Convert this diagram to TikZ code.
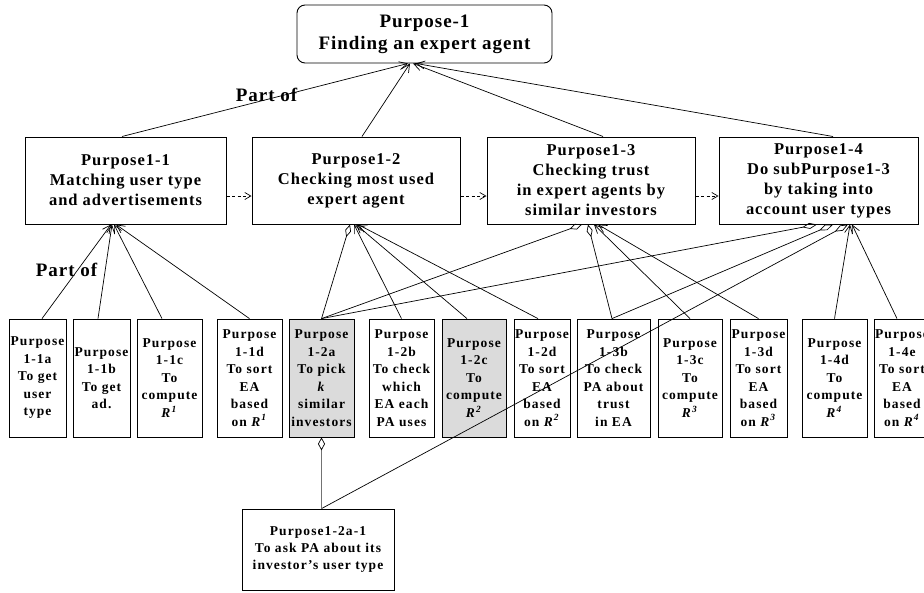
\documentclass[tikz,border=0pt]{standalone}
\usepackage{fontspec}
\setmainfont{Liberation Serif}
\newfontfamily\fontTop[LetterSpace=5]{Liberation Serif}
\newfontfamily\fontMid[LetterSpace=6]{Liberation Serif}
\newfontfamily\fontBot[LetterSpace=8]{Liberation Serif}
\usetikzlibrary{arrows.meta,calc}
\newcommand{\Rsup}[1]{\textit{R}\textsuperscript{\textit{#1}}}
\tikzset{
 topbox/.style={draw, line width=0.9pt, rounded corners=8pt, minimum width=255pt, minimum height=58pt, inner sep=0pt, align=center, font=\fontTop\bfseries\fontsize{19}{22}\selectfont},
 midbox/.style={draw, line width=1pt, minimum height=87pt, inner sep=0pt, align=center, font=\fontMid\bfseries\fontsize{16.5}{20}\selectfont},
 botbox/.style={draw, line width=0.8pt, minimum height=118pt, inner sep=0pt, align=center, font=\fontBot\bfseries\fontsize{13.5}{17.5}\selectfont},
 subbox/.style={draw, line width=0.8pt, minimum width=152pt, minimum height=81pt, inner sep=0pt, align=center, font=\fontBot\bfseries\fontsize{13.5}{17}\selectfont},
 shaded/.style={fill=black!14},
 lbl/.style={inner sep=0pt, font=\fontTop\bfseries\fontsize{19}{22}\selectfont},
 part/.style={line width=0.7pt, -{Straight Barb[length=8pt,width=8pt,line width=0.7pt]}},
 seq/.style={line width=0.7pt, dash pattern=on 3pt off 2.5pt, -{Straight Barb[length=6pt,width=7pt,line width=0.7pt]}},
 agg/.style={line width=0.7pt, -{Diamond[open,length=13pt,width=6pt,line width=0.7pt]}},
 hagg/.style={line width=0.7pt, -{Diamond[open,length=15pt,width=6pt,line width=0.7pt]}},
 subline/.style={line width=1.6pt, draw=black!55, -{Diamond[open,length=13pt,width=7pt,line width=0.7pt,color=black]}},
}
\begin{document}
\begin{tikzpicture}[x=1pt,y=-1pt]
\useasboundingbox (0,0) rectangle (924,592);
% top
\node[topbox] (top) at (424.5,34) {Purpose-1\\Finding an expert agent};
% middle row
\node[midbox, minimum width=201pt] (b1) at (125.5,180.5) {Purpose1-1\\Matching user type\\and advertisements};
\node[midbox, minimum width=208pt] (b2) at (356,180.5) {Purpose1-2\\Checking most used\\expert agent};
\node[midbox, minimum width=208pt] (b3) at (591,180.5) {Purpose1-3\\Checking trust\\in expert agents by\\similar investors};
\node[midbox, minimum width=199pt] (b4) at (818.5,180.5) {Purpose1-4\\Do subPurpose1-3\\by taking into\\account user types};
% labels
\node[lbl] (lp1) at (266.5,95) {Part of};
\node[lbl] (lp2) at (66.5,270) {Part of};
% bottom row
\node[botbox, minimum width=57pt] (a1a) at (37.5,378) {Purpose\\1-1a\\To get\\user\\type};
\node[botbox, minimum width=57pt] (a1b) at (101.5,378) {Purpose\\1-1b\\To get\\ad.};
\node[botbox, minimum width=65pt] (a1c) at (169.5,378) {Purpose\\1-1c\\To\\compute\\\Rsup{1}};
\node[botbox, minimum width=65pt] (a1d) at (249.5,378) {Purpose\\1-1d\\To sort\\EA\\based\\on \Rsup{1}};
\node[botbox, shaded, minimum width=65pt] (a2a) at (321.5,378) {Purpose\\1-2a\\To pick\\\textit{k}\\similar\\investors};
\node[botbox, minimum width=65pt] (a2b) at (401.5,378) {Purpose\\1-2b\\To check\\which\\EA each\\PA uses};
\node[botbox, shaded, minimum width=64pt] (a2c) at (474,378) {Purpose\\1-2c\\To\\compute\\\Rsup{2}};
\node[botbox, minimum width=56pt] (a2d) at (542,378) {Purpose\\1-2d\\To sort\\EA\\based\\on \Rsup{2}};
\node[botbox, minimum width=73pt] (a3b) at (613.5,378) {Purpose\\1-3b\\To check\\PA about\\trust\\in EA};
\node[botbox, minimum width=64pt] (a3c) at (690,378) {Purpose\\1-3c\\To\\compute\\\Rsup{3}};
\node[botbox, minimum width=57pt] (a3d) at (758.5,378) {Purpose\\1-3d\\To sort\\EA\\based\\on \Rsup{3}};
\node[botbox, minimum width=65pt] (a4d) at (834.5,378) {Purpose\\1-4d\\To\\compute\\\Rsup{4}};
\node[botbox, minimum width=56pt] (a4e) at (902,378) {Purpose\\1-4e\\To sort\\EA\\based\\on \Rsup{4}};
% sub purpose
\node[subbox] (sub) at (318,549.5) {Purpose1-2a-1\\To ask PA about its\\investor’s user type};
% top connectors
\draw[part] (b1.north -| 122,0) -- (top.south -| 408,0);
\draw[part] (b2.north -| 362,0) -- (top.south -| 410,0);
\draw[part] (b3.north -| 603,0) -- (top.south -| 413,0);
\draw[part] (b4.north -| 833,0) -- (top.south -| 416,0);
% sequence
\draw[seq] (b1.east |- 0,196) -- (b2.west |- 0,196);
\draw[seq] (b2.east |- 0,196) -- (b3.west |- 0,196);
\draw[seq] (b3.east |- 0,196) -- (b4.west |- 0,196);
% box 1
\draw[part] (a1a.north -| 42,0) -- (b1.south -| 111,0);
\draw[part] (a1b.north -| 98,0) -- (b1.south -| 112,0);
\draw[part] (a1c.north -| 162,0) -- (b1.south -| 114,0);
\draw[part] (a1d.north) -- (b1.south -| 116,0);
% box 2
\draw[agg] (a2a.north) -- (b2.south -| 350,0);
\draw[part] (a2b.north) -- (b2.south -| 354,0);
\draw[part] (a2c.north -| 467,0) -- (b2.south -| 356,0);
\draw[part] (a2d.north -| 538,0) -- (b2.south -| 358,0);
% box 3
\draw[agg] (a2a.north) -- (b3.south -| 582,0);
\draw[agg] (a3b.north -| 612,0) -- (b3.south -| 588,0);
\draw[part] (a3c.north) -- (b3.south -| 594,0);
\draw[part] (a3d.north) -- (b3.south -| 598,0);
% box 4
\draw[hagg] (a2a.north) -- (b4.south -| 817,0);
\draw[hagg] (a3b.north -| 612,0) -- (b4.south -| 833,0);
\draw[hagg] (sub.north -| a2a.south) -- (b4.south -| 848,0);
\draw[part] (a4d.north) -- (b4.south -| 850,0);
\draw[part] (a4e.north -| 897,0) -- (b4.south -| 852,0);
% sub
\draw[subline] (sub.north -| a2a.south) -- (a2a.south);
\end{tikzpicture}
\end{document}
